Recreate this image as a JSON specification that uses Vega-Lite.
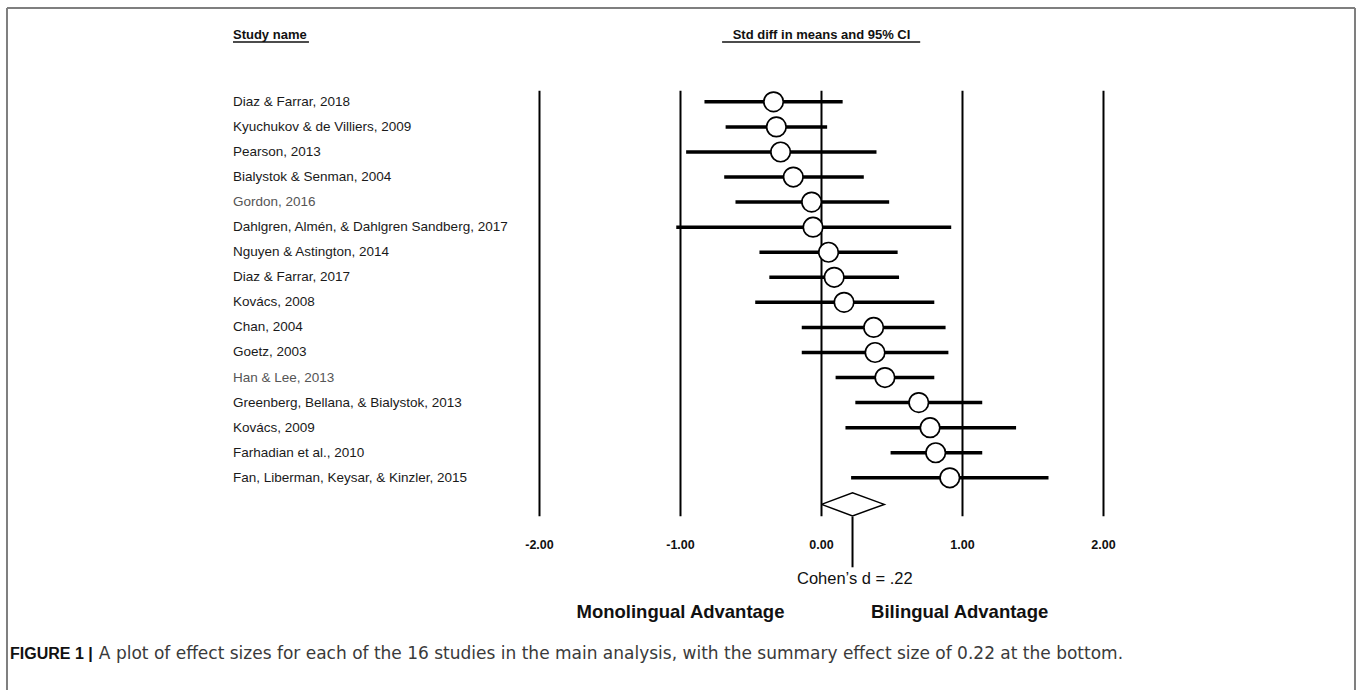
{
  "$schema": "https://vega.github.io/schema/vega-lite/v6.json",
  "width": 1358,
  "height": 691,
  "autosize": {"type": "fit", "contains": "padding"},
  "padding": 0,
  "background": "white",
  "config": {"view": {"stroke": null}, "text": {"font": "Liberation Sans"}},
  "datasets": {
    "studies": [
      {"study": "Diaz & Farrar, 2018", "row": 1, "d": -0.34, "lo": -0.83, "hi": 0.15, "tone": "dark"},
      {"study": "Kyuchukov & de Villiers, 2009", "row": 2, "d": -0.32, "lo": -0.68, "hi": 0.04, "tone": "dark"},
      {"study": "Pearson, 2013", "row": 3, "d": -0.29, "lo": -0.96, "hi": 0.39, "tone": "dark"},
      {"study": "Bialystok & Senman, 2004", "row": 4, "d": -0.20, "lo": -0.69, "hi": 0.30, "tone": "dark"},
      {"study": "Gordon, 2016", "row": 5, "d": -0.07, "lo": -0.61, "hi": 0.48, "tone": "light"},
      {"study": "Dahlgren, Almén, & Dahlgren Sandberg, 2017", "row": 6, "d": -0.06, "lo": -1.03, "hi": 0.92, "tone": "dark"},
      {"study": "Nguyen & Astington, 2014", "row": 7, "d": 0.05, "lo": -0.44, "hi": 0.54, "tone": "dark"},
      {"study": "Diaz & Farrar, 2017", "row": 8, "d": 0.09, "lo": -0.37, "hi": 0.55, "tone": "dark"},
      {"study": "Kovács, 2008", "row": 9, "d": 0.16, "lo": -0.47, "hi": 0.80, "tone": "dark"},
      {"study": "Chan, 2004", "row": 10, "d": 0.37, "lo": -0.14, "hi": 0.88, "tone": "dark"},
      {"study": "Goetz, 2003", "row": 11, "d": 0.38, "lo": -0.14, "hi": 0.90, "tone": "dark"},
      {"study": "Han & Lee, 2013", "row": 12, "d": 0.45, "lo": 0.10, "hi": 0.80, "tone": "light"},
      {"study": "Greenberg, Bellana, & Bialystok, 2013", "row": 13, "d": 0.69, "lo": 0.24, "hi": 1.14, "tone": "dark"},
      {"study": "Kovács, 2009", "row": 14, "d": 0.77, "lo": 0.17, "hi": 1.38, "tone": "dark"},
      {"study": "Farhadian et al., 2010", "row": 15, "d": 0.81, "lo": 0.49, "hi": 1.14, "tone": "dark"},
      {"study": "Fan, Liberman, Keysar, & Kinzler, 2015", "row": 16, "d": 0.91, "lo": 0.21, "hi": 1.61, "tone": "dark"}
    ],
    "ticks": [{"v": -2, "label": "-2.00"}, {"v": -1, "label": "-1.00"}, {"v": 0, "label": "0.00"}, {"v": 1, "label": "1.00"}, {"v": 2, "label": "2.00"}],
    "summary": [
      {"x": 0.0, "y": 17.06, "o": 1},
      {"x": 0.22, "y": 16.6, "o": 2},
      {"x": 0.445, "y": 17.06, "o": 3},
      {"x": 0.22, "y": 17.52, "o": 4},
      {"x": 0.0, "y": 17.06, "o": 5}
    ]
  },
  "layer": [
    {
      "data": {"values": [{}]},
      "mark": {"type": "rule", "color": "#7f7f7f", "strokeWidth": 2},
      "encoding": {
        "x": {"datum": -5.7766, "type": "quantitative", "scale": {"domain": [-5.8262, 3.805], "nice": false, "zero": false}, "axis": null},
        "y": {"datum": -2.745, "type": "quantitative", "scale": {"domain": [-3.0637, 24.466], "nice": false, "zero": false, "reverse": true}, "axis": null},
        "x2": {"datum": 3.7837}
      }
    },
    {
      "data": {"values": [{}]},
      "mark": {"type": "rule", "color": "#7f7f7f", "strokeWidth": 2},
      "encoding": {
        "x": {"datum": -5.7766, "type": "quantitative"},
        "y": {"datum": -2.745, "type": "quantitative"},
        "y2": {"datum": 24.466}
      }
    },
    {
      "data": {"values": [{}]},
      "mark": {"type": "rule", "color": "#7f7f7f", "strokeWidth": 2},
      "encoding": {
        "x": {"datum": 3.7837, "type": "quantitative"},
        "y": {"datum": -2.745, "type": "quantitative"},
        "y2": {"datum": 24.466}
      }
    },
    {
      "data": {"name": "ticks"},
      "mark": {"type": "rule", "color": "black", "strokeWidth": 2},
      "encoding": {
        "x": {"field": "v", "type": "quantitative"},
        "y": {"datum": 0.562, "type": "quantitative"},
        "y2": {"datum": 17.53}
      }
    },
    {
      "data": {"name": "ticks"},
      "mark": {"type": "text", "fontWeight": "bold", "fontSize": 12.5, "align": "center", "baseline": "middle", "color": "#111"},
      "encoding": {
        "x": {"field": "v", "type": "quantitative"},
        "y": {"datum": 18.69, "type": "quantitative"},
        "text": {"field": "label"}
      }
    },
    {
      "data": {"name": "studies"},
      "mark": {"type": "rule", "color": "black", "strokeWidth": 3.5},
      "encoding": {
        "x": {"field": "lo", "type": "quantitative"},
        "x2": {"field": "hi"},
        "y": {"field": "row", "type": "quantitative"}
      }
    },
    {
      "data": {"name": "studies"},
      "mark": {"type": "point", "shape": "circle", "filled": true, "fill": "white", "stroke": "black", "strokeWidth": 1.7, "size": 380, "opacity": 1},
      "encoding": {
        "x": {"field": "d", "type": "quantitative"},
        "y": {"field": "row", "type": "quantitative"}
      }
    },
    {
      "data": {"name": "studies"},
      "mark": {"type": "text", "fontSize": 13.5, "align": "left", "baseline": "middle"},
      "encoding": {
        "x": {"datum": -4.1738, "type": "quantitative"},
        "y": {"field": "row", "type": "quantitative"},
        "text": {"field": "study"},
        "color": {"field": "tone", "type": "nominal", "scale": {"domain": ["dark", "light"], "range": ["#1a1a1a", "#555555"]}, "legend": null}
      }
    },
    {
      "data": {"name": "summary"},
      "mark": {"type": "line", "color": "black", "strokeWidth": 1.5},
      "encoding": {
        "x": {"field": "x", "type": "quantitative"},
        "y": {"field": "y", "type": "quantitative"},
        "order": {"field": "o", "type": "quantitative"}
      }
    },
    {
      "data": {"values": [{}]},
      "mark": {"type": "rule", "color": "black", "strokeWidth": 2},
      "encoding": {
        "x": {"datum": 0.22, "type": "quantitative"},
        "y": {"datum": 17.55, "type": "quantitative"},
        "y2": {"datum": 19.57}
      }
    },
    {
      "data": {"values": [{}]},
      "mark": {"type": "text", "fontSize": 16.5, "align": "center", "baseline": "middle", "color": "#111", "text": "Cohen’s d = .22"},
      "encoding": {
        "x": {"datum": 0.2365, "type": "quantitative"},
        "y": {"datum": 20.04, "type": "quantitative"}
      }
    },
    {
      "data": {"values": [{}]},
      "mark": {"type": "text", "fontSize": 18.5, "fontWeight": "bold", "align": "center", "baseline": "middle", "color": "#111", "text": "Monolingual Advantage"},
      "encoding": {
        "x": {"datum": -1.0, "type": "quantitative"},
        "y": {"datum": 21.36, "type": "quantitative"}
      }
    },
    {
      "data": {"values": [{}]},
      "mark": {"type": "text", "fontSize": 18.5, "fontWeight": "bold", "align": "center", "baseline": "middle", "color": "#111", "text": "Bilingual Advantage"},
      "encoding": {
        "x": {"datum": 0.98, "type": "quantitative"},
        "y": {"datum": 21.36, "type": "quantitative"}
      }
    },
    {
      "data": {"values": [{}]},
      "mark": {"type": "text", "fontSize": 13, "fontWeight": "bold", "align": "left", "baseline": "middle", "color": "#111", "text": "Study name"},
      "encoding": {
        "x": {"datum": -4.1738, "type": "quantitative"},
        "y": {"datum": -1.669, "type": "quantitative"}
      }
    },
    {
      "data": {"values": [{}]},
      "mark": {"type": "rule", "color": "#111", "strokeWidth": 1.5},
      "encoding": {
        "x": {"datum": -4.1738, "type": "quantitative"},
        "x2": {"datum": -3.635},
        "y": {"datum": -1.39, "type": "quantitative"}
      }
    },
    {
      "data": {"values": [{}]},
      "mark": {"type": "text", "fontSize": 13, "fontWeight": "bold", "align": "center", "baseline": "middle", "color": "#111", "text": "Std diff in means and 95% CI"},
      "encoding": {
        "x": {"datum": 0.0, "type": "quantitative"},
        "y": {"datum": -1.669, "type": "quantitative"}
      }
    },
    {
      "data": {"values": [{}]},
      "mark": {"type": "rule", "color": "#111", "strokeWidth": 1.5},
      "encoding": {
        "x": {"datum": -0.705, "type": "quantitative"},
        "x2": {"datum": 0.7},
        "y": {"datum": -1.39, "type": "quantitative"}
      }
    },
    {
      "data": {"values": [{}]},
      "mark": {"type": "text", "fontSize": 16, "fontWeight": "bold", "align": "left", "baseline": "middle", "color": "#111", "text": "FIGURE 1 |"},
      "encoding": {
        "x": {"datum": -5.755, "type": "quantitative"},
        "y": {"datum": 23.03, "type": "quantitative"}
      }
    },
    {
      "data": {"values": [{}]},
      "mark": {"type": "text", "fontSize": 17, "font": "DejaVu Sans", "align": "left", "baseline": "middle", "color": "#3a3a3a", "text": "A plot of effect sizes for each of the 16 studies in the main analysis, with the summary effect size of 0.22 at the bottom."},
      "encoding": {
        "x": {"datum": -5.125, "type": "quantitative"},
        "y": {"datum": 23.03, "type": "quantitative"}
      }
    }
  ]
}
